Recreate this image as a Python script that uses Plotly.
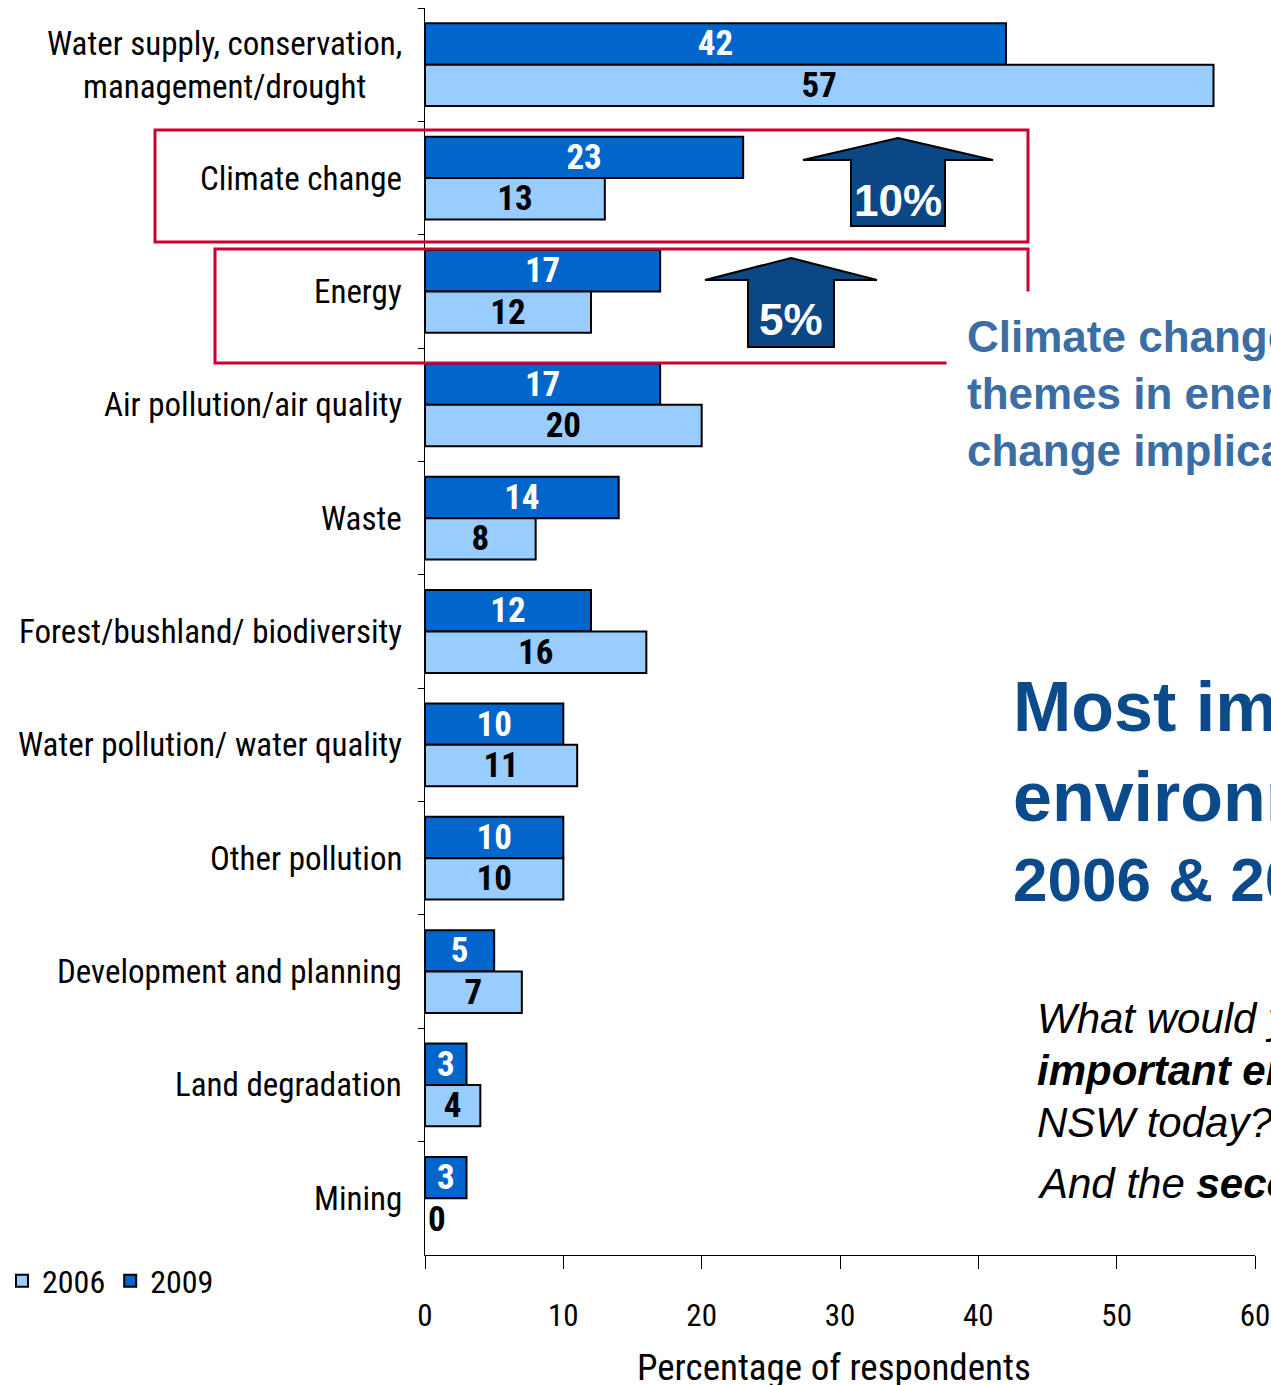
import plotly.graph_objects as go

# Survey results: most important environmental issues in NSW, 2006 vs 2009
categories = [
    "Water supply, conservation, management/drought",
    "Climate change",
    "Energy",
    "Air pollution/air quality",
    "Waste",
    "Forest/bushland/ biodiversity",
    "Water pollution/ water quality",
    "Other pollution",
    "Development and planning",
    "Land degradation",
    "Mining",
]
category_labels = [
    "Water supply, conservation,<br>management/drought",
    "Climate change",
    "Energy",
    "Air pollution/air quality",
    "Waste",
    "Forest/bushland/ biodiversity",
    "Water pollution/ water quality",
    "Other pollution",
    "Development and planning",
    "Land degradation",
    "Mining",
]
pct_2009 = [42, 23, 17, 17, 14, 12, 10, 10, 5, 3, 3]
pct_2006 = [57, 13, 12, 20, 8, 16, 11, 10, 7, 4, 0]
x_ticks = [0, 10, 20, 30, 40, 50, 60]

NARROW = "Roboto Condensed, Liberation Sans Narrow, Arial Narrow, sans-serif"
ARIAL = "Liberation Sans, Arial, sans-serif"
DARK_BLUE = "#0066CC"
LIGHT_BLUE = "#99CCFF"
NAVY = "#0B4784"
RED = "#CC0033"

W, H = 1271, 1385
L, R, T, B = 425, 16, 8, 130
PW, PH = W - L - R, H - T - B


def px(xp):
    """Pixel x -> paper x."""
    return (xp - L) / PW


def py(yp):
    """Pixel y -> paper y."""
    return (H - B - yp) / PH


fig = go.Figure()

fig.add_trace(go.Bar(
    name="2009", y=categories, x=pct_2009, orientation="h",
    marker=dict(color=DARK_BLUE,
                line=dict(color="black", width=[2 if v > 0 else 0 for v in pct_2009])),
    text=[str(v) for v in pct_2009], textposition="inside",
    insidetextanchor="middle", textangle=0, constraintext="none",
    textfont=dict(family=NARROW, size=35, color="white", weight="bold"),
))
fig.add_trace(go.Bar(
    name="2006", y=categories, x=pct_2006, orientation="h",
    marker=dict(color=LIGHT_BLUE,
                line=dict(color="black", width=[2 if v > 0 else 0 for v in pct_2006])),
    text=[str(v) for v in pct_2006],
    textposition=["inside" if v > 0 else "outside" for v in pct_2006],
    insidetextanchor="middle", textangle=0, constraintext="none",
    textfont=dict(family=NARROW, size=35, color="black", weight="bold"),
    outsidetextfont=dict(family=NARROW, size=35, color="black", weight="bold"),
    cliponaxis=False,
))

annotations = []
# category labels, right-aligned against the axis, multi-line centred
for cat, lab in zip(categories, category_labels):
    annotations.append(dict(
        x=0, xref="paper", y=cat, yref="y", xanchor="right", yanchor="middle",
        xshift=-21, text=lab, showarrow=False, align="center",
        font=dict(family=NARROW, size=33, color="black"),
    ))

# x-axis title
annotations.append(dict(
    x=px(834), xref="paper", y=py(1367), yref="paper", xanchor="center", yanchor="middle",
    text="Percentage of respondents", showarrow=False,
    font=dict(family=NARROW, size=37, color="black"),
))

shapes = []
# red highlight boxes around Climate change and Energy
shapes.append(dict(type="rect", xref="paper", yref="paper",
                   x0=px(155), x1=px(1028), y0=py(242), y1=py(130),
                   line=dict(color=RED, width=3), layer="above"))
shapes.append(dict(type="path", xref="paper", yref="paper",
                   path=f"M{px(1028)},{py(296)} L{px(1028)},{py(249)} L{px(215)},{py(249)} "
                        f"L{px(215)},{py(363)} L{px(947)},{py(363)}",
                   line=dict(color=RED, width=3), layer="above"))


def up_arrow(cx, tip, base, bottom, half_head, half_shaft):
    return (f"M{px(cx)},{py(tip)} L{px(cx + half_head)},{py(base)} "
            f"L{px(cx + half_shaft)},{py(base)} L{px(cx + half_shaft)},{py(bottom)} "
            f"L{px(cx - half_shaft)},{py(bottom)} L{px(cx - half_shaft)},{py(base)} "
            f"L{px(cx - half_head)},{py(base)} Z")


arrows = [
    (1, 898, 138, 160, 226, 95, 47, 200),
    (2, 791, 258, 280, 347, 86, 43, 319),
]
for idx, cx, tip, base, bottom, hh, hs, ty in arrows:
    shapes.append(dict(type="path", xref="paper", yref="paper",
                       path=up_arrow(cx, tip, base, bottom, hh, hs),
                       fillcolor=NAVY, line=dict(color="black", width=2), layer="above"))
    annotations.append(dict(
        x=px(cx), xref="paper", y=py(ty), yref="paper", xanchor="center", yanchor="middle",
        text=f"<b>{pct_2009[idx] - pct_2006[idx]}%</b>", showarrow=False,
        font=dict(family=ARIAL, size=44, color="white"),
    ))

# side commentary
annotations.append(dict(
    x=px(946), xref="paper", y=py(291), yref="paper", xanchor="left", yanchor="top",
    text="<b>Climate change and energy<br>themes in energy and climate<br>change implications</b>",
    showarrow=False, align="left", bgcolor="white", borderpad=20,
    font=dict(family=ARIAL, size=44, color="#3A6EA5"),
))
for text, yc, size in [("Most important", 707, 70),
                       ("environmental issues", 797, 70),
                       ("2006 & 2009", 879, 62)]:
    annotations.append(dict(
        x=px(1011), xref="paper", y=py(yc), yref="paper", xanchor="left", yanchor="middle",
        text=f"<b>{text}</b>", showarrow=False,
        font=dict(family=ARIAL, size=size, color="#0B4A8B"),
    ))
for text, yc in [("<i>What would you say is the most</i>", 1018),
                 ("<b><i>important environmental issue</i></b><i> in</i>", 1070),
                 ("<i>NSW today?</i>", 1122),
                 ("<i>And the </i><b><i>second</i></b><i> most important?</i>", 1183)]:
    annotations.append(dict(
        x=px(1035), xref="paper", y=py(yc), yref="paper", xanchor="left", yanchor="middle",
        text=text, showarrow=False,
        font=dict(family=ARIAL, size=42, color="black"),
    ))

fig.update_layout(
    width=W, height=H,
    margin=dict(l=L, r=R, t=T, b=B, pad=0, autoexpand=False),
    paper_bgcolor="white", plot_bgcolor="white",
    barmode="group", bargap=0.27, bargroupgap=0,
    showlegend=True,
    legend=dict(orientation="h", traceorder="reversed",
                xref="container", yref="container",
                x=2 / W, y=1 - 1281 / H,
                xanchor="left", yanchor="middle", bgcolor="rgba(0,0,0,0)",
                font=dict(family=NARROW, size=32, color="black"),
                itemwidth=30),
    xaxis=dict(range=[0, 60], tickvals=x_ticks, showgrid=False, zeroline=False,
               showline=True, linecolor="black", linewidth=1,
               ticks="outside", ticklen=13, tickcolor="black",
               ticklabelstandoff=20, ticklabeloverflow="allow",
               tickfont=dict(family=NARROW, size=31, color="black")),
    yaxis=dict(categoryorder="array", categoryarray=categories,
               range=[len(categories) - 0.5, -0.5], showgrid=False, zeroline=False,
               showline=True, linecolor="black", linewidth=1,
               ticks="outside", ticklen=6, tickcolor="black", tickson="boundaries",
               showticklabels=False),
    annotations=annotations,
    shapes=shapes,
    font=dict(family=NARROW, color="black"),
)

fig.write_html("out.html")
